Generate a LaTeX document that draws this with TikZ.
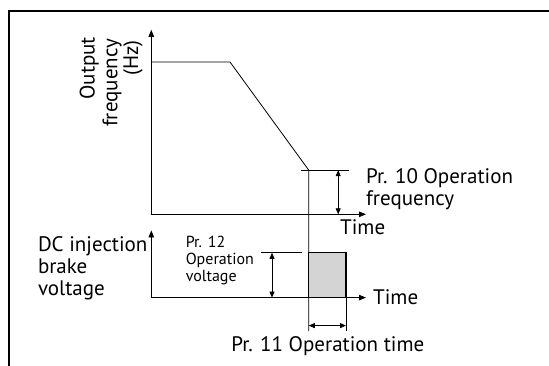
\documentclass[tikz,border=0pt]{standalone}
\usepackage{fontspec}
\setmainfont{PT Sans}
\usetikzlibrary{arrows.meta}
\definecolor{boxgray}{RGB}{212,212,212}
\begin{document}
\begin{tikzpicture}[x=1pt,y=-1pt,
  ax/.style={line width=0.8pt},
  tip/.style={-{Triangle[length=7pt,width=5.5pt]}},
  dim/.style={{Triangle[length=6pt,width=5pt]}-{Triangle[length=6pt,width=5pt]}, line width=0.8pt},
  lbl/.style={font=\fontsize{21}{21.8}\selectfont, inner sep=0pt, align=left},
  small/.style={font=\fontsize{16}{17}\selectfont, inner sep=0pt, align=left}]
\useasboundingbox (0,0) rectangle (549,365);
\draw[line width=2pt] (8.5,367) -- (8.5,10.5) -- (551,10.5);
% upper chart
\coordinate (o1) at (151.3,214.3);
\coordinate (y1) at (151.3,29.8);
\coordinate (x1) at (366,214.3);
\draw[ax,tip] (o1) -- (y1);
\draw[ax,tip] (o1) -- (x1);
\coordinate (f0) at (151.3,62);
\coordinate (f1) at (230,62);
\coordinate (f2) at (308.8,170.2);
\coordinate (v1b) at (308.8,331);
\draw[ax] (f0) -- (f1) -- (f2) -- (v1b);
\coordinate (e1a) at (301,170.2);
\coordinate (e1b) at (349.4,170.2);
\draw[ax] (e1a) -- (e1b);
\coordinate (d1a) at (338.2,170.2);
\coordinate (d1b) at (338.2,214.3);
\draw[dim] (d1a) -- (d1b);
% lower chart
\coordinate (o2) at (151.3,297.6);
\coordinate (y2) at (151.3,230.4);
\coordinate (x2) at (366,297.6);
\draw[line width=1.2pt,fill=boxgray] (308.8,297.6) rectangle (346,252.8);
\draw[ax,tip] (o2) -- (y2);
\draw[ax,tip] (o2) -- (x2);
\coordinate (v2a) at (346,297.6);
\coordinate (v2b) at (346,331);
\draw[ax] (v2a) -- (v2b);
\coordinate (e2a) at (261,252.8);
\coordinate (e2b) at (301.8,252.8);
\draw[ax] (e2a) -- (e2b);
\coordinate (d2a) at (272,252.8);
\coordinate (d2b) at (272,297.6);
\draw[dim] (d2a) -- (d2b);
\coordinate (d3a) at (308.8,325.6);
\coordinate (d3b) at (346,325.6);
\draw[dim] (d3a) -- (d3b);
% labels
\node[lbl,anchor=west] (pr10) at (366,189) {Pr. 10 Operation\\frequency};
\node[lbl] (time1) at (362.7,227) {Time};
\node[lbl,anchor=west] (time2) at (373,297) {Time};
\node[lbl] (pr11) at (327.8,346.6) {Pr. 11 Operation time};
\node[lbl,anchor=west] (dcib) at (37.8,268) {DC injection\\brake\\voltage};
\node[small,anchor=west] (pr12) at (185.6,260.5) {Pr. 12\\Operation\\voltage};
\node[lbl,rotate=90,anchor=east] (yout) at (89.3,36.8) {Output};
\node[lbl,rotate=90,anchor=east] (yfreq) at (112,38.5) {frequency};
\node[lbl,rotate=90,anchor=east] (yhz) at (133,40.3) {(Hz)};
\end{tikzpicture}
\end{document}
